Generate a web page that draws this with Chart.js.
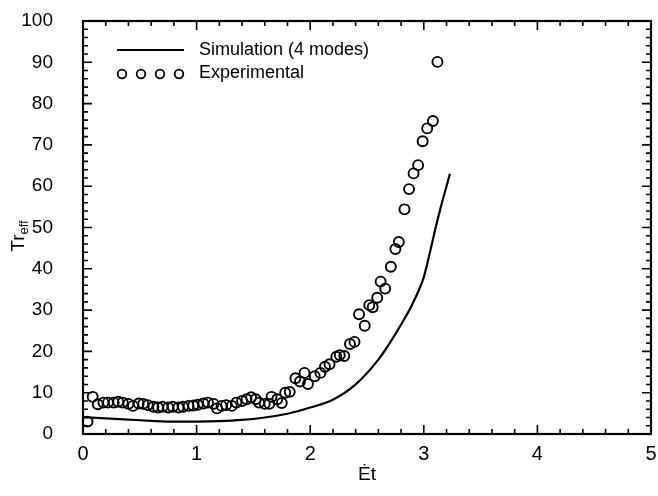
<!DOCTYPE html>
<html>
<head>
<meta charset="utf-8">
<script src="https://cdn.jsdelivr.net/npm/chart.js@4/dist/chart.umd.min.js"></script>
<style>
  html, body { margin: 0; padding: 0; background: #fff; }
  #wrap { width: 658px; height: 496px; }
</style>
</head>
<body>
<div id="wrap"><canvas id="chart" width="658" height="496"></canvas></div>
<script>
// simulation curve (4 modes)
const simX = [0, 0.2, 0.4, 0.6, 0.8, 1.0, 1.2, 1.4, 1.6, 1.8, 2.0, 2.2, 2.4, 2.6, 2.7, 2.8, 2.9, 3.0, 3.05, 3.1, 3.15, 3.2, 3.23];
const simY = [4.1, 3.8, 3.5, 3.2, 3.0, 3.0, 3.1, 3.4, 4.0, 4.9, 6.4, 8.3, 12.0, 18.0, 22.0, 26.5, 31.5, 38.0, 43.5, 49.5, 55.0, 60.0, 63.0];

// experimental points
const expX = [0.04, 0.085, 0.13, 0.18, 0.22, 0.27, 0.31, 0.35, 0.40, 0.44, 0.49, 0.53, 0.57, 0.62, 0.66, 0.70,
  0.75, 0.79, 0.84, 0.88, 0.93, 0.97, 1.01, 1.06, 1.10, 1.15, 1.18, 1.22, 1.26, 1.31, 1.35, 1.40, 1.44, 1.48,
  1.52, 1.55, 1.60, 1.64, 1.66, 1.71, 1.75, 1.78, 1.82, 1.87, 1.91, 1.95, 1.98, 2.04, 2.09, 2.13, 2.17, 2.23,
  2.26, 2.30, 2.35, 2.39, 2.43, 2.48, 2.52, 2.55, 2.59, 2.62, 2.66, 2.71, 2.75, 2.78, 2.83, 2.87, 2.91, 2.95,
  2.99, 3.03, 3.08, 3.12];
const expY = [3.0, 9.0, 7.2, 7.6, 7.6, 7.6, 7.8, 7.6, 7.3, 6.8, 7.4, 7.3, 7.0, 6.6, 6.4, 6.6,
  6.4, 6.6, 6.4, 6.6, 6.8, 6.9, 7.1, 7.4, 7.6, 7.3, 6.2, 6.8, 7.0, 6.8, 7.6, 8.0, 8.4, 8.9,
  8.4, 7.6, 7.3, 7.3, 9.0, 8.4, 7.5, 10.0, 10.2, 13.5, 12.7, 14.8, 12.1, 14.0, 14.8, 16.3, 16.9, 18.7,
  19.1, 18.9, 21.8, 22.3, 29.0, 26.2, 31.2, 30.7, 33.0, 36.9, 35.2, 40.5, 44.8, 46.5, 54.4, 59.3, 63.1, 65.1,
  70.9, 74.0, 75.8, 90.1];

const xTickLabels = ["0", "1", "2", "3", "4", "5"];
const yTickLabels = ["0", "10", "20", "30", "40", "50", "60", "70", "80", "90", "100"];

const FONT = "Liberation Sans, Arial, Helvetica, sans-serif";

// frame, inward ticks, axis titles and legend
const decorPlugin = {
  id: "decor",
  afterDatasetsDraw(chart) {
    const ctx = chart.ctx;
    const a = chart.chartArea;
    const xs = chart.scales.x, ys = chart.scales.y;
    ctx.save();
    ctx.strokeStyle = "#000";
    ctx.lineWidth = 2.2;
    ctx.strokeRect(a.left, a.top, a.right - a.left, a.bottom - a.top);

    ctx.lineWidth = 1.6;
    ctx.beginPath();
    for (let v = 0; v <= 5.001; v += 0.2) {
      const px = xs.getPixelForValue(v);
      const major = Math.abs(v - Math.round(v)) < 1e-6;
      const len = major ? 9 : 5;
      ctx.moveTo(px, a.bottom); ctx.lineTo(px, a.bottom - len);
      ctx.moveTo(px, a.top); ctx.lineTo(px, a.top + len);
    }
    for (let v = 0; v <= 100.001; v += 2) {
      const py = ys.getPixelForValue(v);
      const major = v % 10 === 0;
      const len = major ? 9 : 5;
      ctx.moveTo(a.left, py); ctx.lineTo(a.left + len, py);
      ctx.moveTo(a.right, py); ctx.lineTo(a.right - len, py);
    }
    ctx.stroke();

    // x title
    ctx.fillStyle = "#000";
    ctx.font = "19px " + FONT;
    ctx.textAlign = "center";
    ctx.textBaseline = "middle";
    ctx.fillText("\u0116t", (a.left + a.right) / 2, 475);

    // y title with subscript
    ctx.translate(18, 236);
    ctx.rotate(-Math.PI / 2);
    ctx.textAlign = "left";
    ctx.textBaseline = "alphabetic";
    ctx.font = "19px " + FONT;
    const w1 = ctx.measureText("Tr").width;
    ctx.font = "13px " + FONT;
    const w2 = ctx.measureText("eff").width;
    const start = -(w1 + w2) / 2;
    ctx.font = "19px " + FONT;
    ctx.fillText("Tr", start, 6);
    ctx.font = "13px " + FONT;
    ctx.fillText("eff", start + w1, 10);
    ctx.setTransform(1, 0, 0, 1, 0, 0);

    // legend
    ctx.font = "18px " + FONT;
    ctx.textAlign = "left";
    ctx.textBaseline = "middle";
    ctx.lineWidth = 2.2;
    ctx.beginPath();
    ctx.moveTo(117, 50); ctx.lineTo(184, 50);
    ctx.stroke();
    ctx.fillText("Simulation (4 modes)", 199, 50);
    ctx.lineWidth = 1.8;
    [122, 141, 160, 179].forEach(cx => {
      ctx.beginPath();
      ctx.arc(cx, 74, 4.3, 0, Math.PI * 2);
      ctx.stroke();
    });
    ctx.fillText("Experimental", 199, 73);
    ctx.restore();
  }
};

const simData = simX.map((x, i) => ({ x: x, y: simY[i] }));
const expData = expX.map((x, i) => ({ x: x, y: expY[i] }));

new Chart(document.getElementById("chart").getContext("2d"), {
  type: "scatter",
  data: {
    datasets: [
      {
        label: "Simulation (4 modes)",
        data: simData,
        showLine: true,
        borderColor: "#000",
        borderWidth: 2.2,
        pointRadius: 0,
        cubicInterpolationMode: "monotone",
        fill: false
      },
      {
        label: "Experimental",
        data: expData,
        showLine: false,
        pointStyle: "circle",
        pointRadius: 5,
        pointBorderWidth: 1.9,
        pointBorderColor: "#000",
        pointBackgroundColor: "rgba(255,255,255,0)"
      }
    ]
  },
  options: {
    responsive: false,
    animation: false,
    layout: { padding: { top: 21, right: 7, left: 0, bottom: 0 } },
    plugins: {
      legend: { display: false },
      tooltip: { enabled: false }
    },
    scales: {
      x: {
        type: "linear",
        min: 0, max: 5,
        grid: { display: false, drawTicks: false },
        border: { display: false },
        afterFit: s => { s.height = 62; s.paddingLeft = 0; s.paddingRight = 0; },
        afterBuildTicks: s => { s.ticks = xTickLabels.map(t => ({ value: Number(t) })); },
        ticks: {
          color: "#000",
          padding: 8,
          font: { size: 20, family: FONT },
          callback: v => String(v)
        }
      },
      y: {
        type: "linear",
        min: 0, max: 100,
        grid: { display: false, drawTicks: false },
        border: { display: false },
        afterFit: s => { s.width = 83; s.paddingTop = 0; s.paddingBottom = 0; },
        afterBuildTicks: s => { s.ticks = yTickLabels.map(t => ({ value: Number(t) })); },
        ticks: {
          color: "#000",
          padding: 30,
          font: { size: 19, family: FONT },
          callback: v => String(v)
        }
      }
    }
  },
  plugins: [decorPlugin]
});
</script>
</body>
</html>
